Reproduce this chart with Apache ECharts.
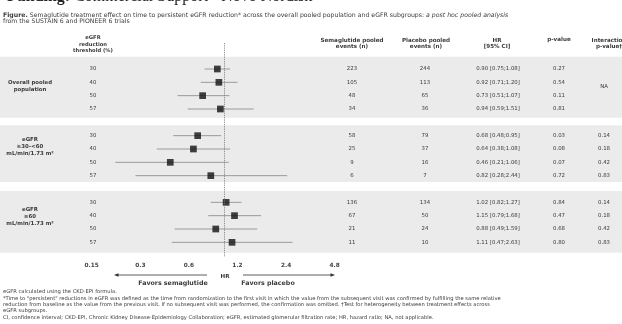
<!DOCTYPE html>
<html><head><meta charset="utf-8">
<script src="https://cdn.jsdelivr.net/npm/echarts@6/dist/echarts.min.js"></script>
<style>html,body{margin:0;padding:0;background:#fff}#c{width:622px;height:324px}</style>
</head><body><div id="c"></div>
<script>
// ---- data ----
const thresholds = ['30', '40', '50', '57'];
const groupLabels = ['Overall pooled\npopulation', 'eGFR\n≥30–<60\nmL/min/1.73 m²', 'eGFR\n≥60\nmL/min/1.73 m²'];
const hrValues = [[0.90, 0.92, 0.73, 0.94], [0.68, 0.64, 0.46, 0.82], [1.02, 1.15, 0.88, 1.11]];
const ciLower = [[0.75, 0.71, 0.51, 0.59], [0.48, 0.38, 0.21, 0.28], [0.82, 0.79, 0.49, 0.47]];
const ciUpper = [[1.08, 1.20, 1.07, 1.51], [0.95, 1.08, 1.06, 2.44], [1.27, 1.68, 1.59, 2.63]];
const semaEvents = [[223, 105, 48, 34], [58, 25, 9, 6], [136, 67, 21, 11]];
const placeboEvents = [[244, 113, 65, 36], [79, 37, 16, 7], [134, 50, 24, 10]];
const pValues = [['0.27', '0.54', '0.11', '0.81'], ['0.03', '0.08', '0.07', '0.72'], ['0.84', '0.47', '0.68', '0.80']];
const interactionP = [['NA'], ['0.14', '0.18', '0.42', '0.83'], ['0.14', '0.18', '0.42', '0.83']];
const xTicks = [0.15, 0.3, 0.6, 1.2, 2.4, 4.8];

// ---- layout ----
const FONT = 'DejaVu Sans';
const TXT = '#3a3a3a';
const colX = { thr: 93, sema: 352, plac: 425, hr: 498, p: 559, inter: 604, group: 30 };
const groupLabelRow = [1.3, 5.8, 11.1];
const bandRanges = [[-0.92, 3.66], [4.21, 8.47], [9.15, 13.78]];
const rowOf = (g, i) => g * 5 + i;

const ciData = [], pointData = [], tableRows = [];
hrValues.forEach((arr, g) => arr.forEach((v, i) => {
  const r = rowOf(g, i);
  ciData.push([ciLower[g][i], ciUpper[g][i], r]);
  pointData.push([v, r]);
  tableRows.push({ row: r, texts: [
    [colX.thr, thresholds[i]],
    [colX.sema, String(semaEvents[g][i])],
    [colX.plac, String(placeboEvents[g][i])],
    [colX.hr, v.toFixed(2) + ' [' + ciLower[g][i].toFixed(2) + ';' + ciUpper[g][i].toFixed(2) + ']'],
    [colX.p, pValues[g][i]]
  ].concat(interactionP[g].length > 1 ? [[colX.inter, interactionP[g][i]]] : []) });
}));
groupLabels.forEach((lab, g) => {
  const t = [[colX.group, lab, true]];
  if (interactionP[g].length === 1) t.push([colX.inter, interactionP[g][0]]);
  tableRows.push({ row: groupLabelRow[g], texts: t });
});

const chart = echarts.init(document.getElementById('c'), null, { renderer: 'canvas' });

function txt(x, y, text, opt) {
  return Object.assign({ type: 'text', x: x, y: y, silent: true,
    style: Object.assign({ text: text, fill: TXT, fontFamily: FONT, fontSize: 5.2, align: 'center', verticalAlign: 'middle' }, (opt || {})) });
}
const CAP = 6.2, FN = 5.2;

const graphics = [
  { type: 'text', x: 7, y: 5, silent: true, style: { text: '{b|Funding:} Commercial Support - Novo Nordisk', fill: '#222', fontFamily: 'Liberation Serif', fontSize: 16, verticalAlign: 'bottom', rich: { b: { fontWeight: 'bold', fontFamily: 'Liberation Serif', fontSize: 16, fill: '#222' } } } },
  { type: 'text', x: 3, y: 15, silent: true, style: { text: '{b|Figure.} Semaglutide treatment effect on time to persistent eGFR reduction* across the overall pooled population and eGFR subgroups: {i|a post hoc pooled analysis}', fill: TXT, fontFamily: FONT, fontSize: CAP, verticalAlign: 'middle', rich: { b: { fontWeight: 'bold', fontFamily: FONT, fontSize: CAP, fill: TXT }, i: { fontStyle: 'italic', fontFamily: FONT, fontSize: CAP, fill: TXT } } } },
  txt(3, 21.5, 'from the SUSTAIN 6 and PIONEER 6 trials', { fontSize: CAP, align: 'left' }),
  txt(93, 44.5, 'eGFR\nreduction\nthreshold (%)', { fontWeight: 'bold', lineHeight: 6.5, fontSize: 5.2 }),
  txt(352, 43.4, 'Semaglutide pooled\nevents (n)', { fontWeight: 'bold', lineHeight: 6.7, fontSize: 5.6 }),
  txt(426, 43.4, 'Placebo pooled\nevents (n)', { fontWeight: 'bold', lineHeight: 6.7, fontSize: 5.6 }),
  txt(497, 43.4, 'HR\n[95% CI]', { fontWeight: 'bold', lineHeight: 6.7, fontSize: 5.6 }),
  txt(559, 40, 'p-value', { fontWeight: 'bold', fontSize: 5.6 }),
  txt(609, 43.4, 'Interaction\np-value†', { fontWeight: 'bold', lineHeight: 6.7, fontSize: 5.6 }),
  txt(225, 277, 'HR', { fontWeight: 'bold', fontSize: 5.6 }),
  txt(173, 283.5, 'Favors semaglutide', { fontWeight: 'bold', fontSize: 6.3 }),
  txt(268, 283.5, 'Favors placebo', { fontWeight: 'bold', fontSize: 6.3 }),
  { type: 'line', silent: true, shape: { x1: 207, y1: 275, x2: 117, y2: 275 }, style: { stroke: '#333', lineWidth: 0.8 } },
  { type: 'polygon', silent: true, shape: { points: [[114, 275], [118.5, 273.3], [118.5, 276.7]] }, style: { fill: '#333' } },
  { type: 'line', silent: true, shape: { x1: 243, y1: 275, x2: 332, y2: 275 }, style: { stroke: '#333', lineWidth: 0.8 } },
  { type: 'polygon', silent: true, shape: { points: [[335, 275], [330.5, 273.3], [330.5, 276.7]] }, style: { fill: '#333' } },
  txt(3, 292, 'eGFR calculated using the CKD-EPI formula.', { align: 'left', fontSize: FN }),
  txt(3, 298.5, '*Time to "persistent" reductions in eGFR was defined as the time from randomization to the first visit in which the value from the subsequent visit was confirmed by fulfilling the same relative', { align: 'left', fontSize: FN }),
  txt(3, 304.5, 'reduction from baseline as the value from the previous visit. If no subsequent visit was performed, the confirmation was omitted. †Test for heterogeneity between treatment effects across', { align: 'left', fontSize: FN }),
  txt(3, 310.5, 'eGFR subgroups.', { align: 'left', fontSize: FN }),
  txt(3, 317.5, 'CI, confidence interval; CKD-EPI, Chronic Kidney Disease-Epidemiology Collaboration; eGFR, estimated glomerular filtration rate; HR, hazard ratio; NA, not applicable.', { align: 'left', fontSize: FN })
];

chart.setOption({
  animation: false,
  backgroundColor: '#ffffff',
  grid: { left: 91.7, right: 287.3, top: 43, bottom: 67, containLabel: false },
  xAxis: {
    type: 'log', logBase: 2, min: 0.15, max: 4.8,
    axisLine: { show: false }, axisTick: { show: false }, splitLine: { show: false },
    axisLabel: { customValues: xTicks, formatter: v => String(+Number(v).toPrecision(3)), fontSize: 5.8, fontWeight: 'bold', color: '#444', fontFamily: FONT, margin: 5 }
  },
  yAxis: { type: 'value', inverse: true, min: -1.95, max: 14.1, show: false },
  series: [
    {
      type: 'custom', name: 'bands', silent: true, z: 0, clip: false,
      encode: { x: 0, y: [1, 2] },
      data: bandRanges.map(b => [1, b[0], b[1]]),
      renderItem: (params, api) => {
        const y0 = api.coord([1, api.value(1)])[1];
        const y1 = api.coord([1, api.value(2)])[1];
        return { type: 'rect', shape: { x: 0, y: y0, width: api.getWidth(), height: y1 - y0 }, style: { fill: '#ebebeb' } };
      }
    },
    {
      type: 'custom', name: 'CI', silent: true, z: 2, clip: false,
      encode: { x: [0, 1], y: 2 },
      data: ciData,
      renderItem: (params, api) => {
        const p0 = api.coord([api.value(0), api.value(2)]);
        const p1 = api.coord([api.value(1), api.value(2)]);
        return { type: 'line', shape: { x1: p0[0], y1: p0[1], x2: p1[0], y2: p1[1] }, style: { stroke: '#9a9a9a', lineWidth: 1 } };
      }
    },
    {
      type: 'scatter', name: 'HR', z: 3, symbol: 'rect', symbolSize: 6.7,
      itemStyle: { color: '#111' }, data: pointData, silent: true,
      markLine: { silent: true, symbol: 'none', label: { show: false }, lineStyle: { type: 'dotted', color: '#777', width: 0.9 }, data: [{ xAxis: 1 }] }
    },
    {
      type: 'custom', name: 'table', silent: true, z: 4, clip: false,
      encode: { x: 0, y: 1 },
      data: tableRows.map(r => [1, r.row]),
      renderItem: (params, api) => {
        const r = tableRows[params.dataIndex];
        const y = api.coord([1, r.row])[1];
        return { type: 'group', children: r.texts.map(t => ({
          type: 'text', x: t[0], y: y,
          style: { text: t[1], fill: TXT, fontFamily: FONT, fontSize: t[2] ? 5.4 : 5.4, fontWeight: t[2] ? 'bold' : 'normal', align: 'center', verticalAlign: 'middle', lineHeight: 7 }
        })) };
      }
    }
  ],
  graphic: graphics
});
</script></body></html>
